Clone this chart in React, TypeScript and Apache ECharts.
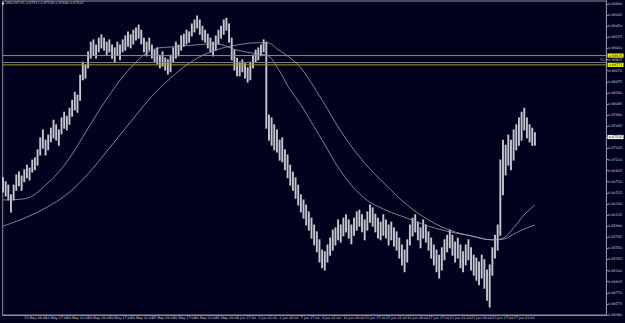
import React, { useEffect, useRef } from "react";
import * as echarts from "echarts";

const symbolTitle = "USDCHF,H1 0.97512 0.97538 0.97490 0.97505";
const slotCount = 908;
const barStep = 4;
const xTickLabels = [
  "12 May 2016", "13 May 09:00", "16 May 17:00", "18 May 01:00", "19 May 09:00",
  "20 May 17:00", "24 May 01:00", "25 May 09:00", "26 May 17:00", "30 May 01:00",
  "31 May 09:00", "1 Jun 17:00", "3 Jun 01:00", "6 Jun 09:00", "7 Jun 17:00",
  "9 Jun 01:00", "10 Jun 09:00", "13 Jun 17:00", "15 Jun 01:00", "16 Jun 09:00",
  "17 Jun 17:00", "21 Jun 01:00", "22 Jun 09:00", "23 Jun 17:00", "27 Jun 01:00",
];
const yMin = 0.9438;
const yInterval = 0.00195;
const yMax = 0.99893;

const barHigh = [
  0.9679, 0.9672, 0.9666, 0.9649, 0.9666, 0.9684, 0.9689, 0.9682, 0.9693, 0.9701,
  0.9696, 0.971, 0.9714, 0.9728, 0.9749, 0.9763, 0.9745, 0.9754, 0.9766, 0.978,
  0.9772, 0.9763, 0.9784, 0.9794, 0.9787, 0.9801, 0.9815, 0.9829, 0.9824, 0.9859,
  0.9882, 0.9877, 0.99, 0.9917, 0.9921, 0.9912, 0.9924, 0.993, 0.9924, 0.9917,
  0.9921, 0.9912, 0.9907, 0.9917, 0.9912, 0.9921, 0.9928, 0.9935, 0.993, 0.9938,
  0.9942, 0.9947, 0.9938, 0.9924, 0.9917, 0.9924, 0.9912, 0.9903, 0.9907, 0.9894,
  0.99, 0.9889, 0.9886, 0.9894, 0.9907, 0.9917, 0.9912, 0.9928, 0.9931, 0.9938,
  0.9935, 0.9949, 0.9956, 0.9963, 0.9956, 0.9945, 0.9938, 0.9931, 0.9924, 0.9917,
  0.9928, 0.9938, 0.9945, 0.9956, 0.9959, 0.9949, 0.9924, 0.9903, 0.9889, 0.9882,
  0.9886, 0.9879, 0.9872, 0.9882, 0.9894, 0.9903, 0.9907, 0.9912, 0.9921, 0.9917,
  0.9789, 0.9784, 0.9772, 0.9763, 0.9745, 0.9749, 0.9728, 0.9719, 0.9701, 0.9689,
  0.9679, 0.9666, 0.9649, 0.964, 0.9631, 0.9619, 0.9608, 0.9596, 0.9584, 0.957,
  0.9552, 0.9549, 0.9561, 0.9573, 0.9587, 0.9591, 0.9605, 0.9596, 0.9608, 0.9614,
  0.9605, 0.9596, 0.9608, 0.9619, 0.9622, 0.9614, 0.9605, 0.9619, 0.9631, 0.9626,
  0.9615, 0.9608, 0.9601, 0.9614, 0.9605, 0.9596, 0.9601, 0.9591, 0.9584, 0.9573,
  0.9561, 0.9552, 0.957, 0.9596, 0.9608, 0.9614, 0.9601, 0.9591, 0.9605, 0.9596,
  0.9584, 0.9573, 0.9561, 0.9552, 0.9543, 0.9556, 0.957, 0.9578, 0.9587, 0.9578,
  0.9566, 0.9573, 0.9561, 0.9549, 0.9561, 0.957, 0.9556, 0.9543, 0.9538, 0.9531,
  0.9543, 0.9535, 0.9517, 0.9526, 0.9556, 0.9578, 0.9596, 0.971, 0.9745, 0.9736,
  0.9754, 0.9745, 0.9763, 0.9772, 0.9784, 0.9794, 0.9801, 0.9784, 0.9772, 0.9766,
  0.9758,
];

const barLow = [
  0.9654, 0.9647, 0.964, 0.9619, 0.964, 0.9657, 0.9665, 0.9657, 0.9672, 0.9679,
  0.9675, 0.9689, 0.9693, 0.9701, 0.9719, 0.9731, 0.9719, 0.9728, 0.9742, 0.9749,
  0.9745, 0.9736, 0.9756, 0.9766, 0.9763, 0.9773, 0.9787, 0.9798, 0.9794, 0.9815,
  0.9851, 0.9854, 0.9872, 0.9889, 0.9894, 0.9889, 0.99, 0.9907, 0.9903, 0.9894,
  0.99, 0.9889, 0.9882, 0.9894, 0.9886, 0.99, 0.9903, 0.991, 0.9907, 0.9914,
  0.9921, 0.9924, 0.9914, 0.99, 0.9893, 0.9903, 0.9889, 0.9882, 0.9879, 0.9872,
  0.9875, 0.9868, 0.9861, 0.9865, 0.9882, 0.9889, 0.9893, 0.9903, 0.991, 0.9914,
  0.9917, 0.9928, 0.9935, 0.9942, 0.9931, 0.9921, 0.9917, 0.9907, 0.99, 0.9893,
  0.9903, 0.9914, 0.9924, 0.9931, 0.9938, 0.9917, 0.9886, 0.9868, 0.9858, 0.9858,
  0.9865, 0.9854, 0.9847, 0.9851, 0.9872, 0.9882, 0.9886, 0.9893, 0.99, 0.9766,
  0.9745, 0.9736, 0.9728, 0.9724, 0.971, 0.9707, 0.9693, 0.9679, 0.9666, 0.9657,
  0.9643, 0.9631, 0.9619, 0.9608, 0.9596, 0.9587, 0.9573, 0.9561, 0.9549, 0.9531,
  0.9521, 0.9517, 0.9531, 0.9543, 0.9552, 0.9561, 0.957, 0.9566, 0.9577, 0.9584,
  0.9573, 0.9563, 0.9578, 0.9587, 0.9594, 0.9584, 0.957, 0.9587, 0.9601, 0.9594,
  0.9584, 0.9573, 0.957, 0.9578, 0.9573, 0.9561, 0.957, 0.9559, 0.9552, 0.9538,
  0.9526, 0.9514, 0.9531, 0.9561, 0.9577, 0.9584, 0.957, 0.9556, 0.9573, 0.9566,
  0.9552, 0.9538, 0.9526, 0.9514, 0.9503, 0.9517, 0.9535, 0.9549, 0.9556, 0.9543,
  0.9531, 0.9538, 0.9521, 0.9514, 0.9526, 0.9535, 0.9517, 0.9508, 0.9499, 0.9491,
  0.9503, 0.9485, 0.9464, 0.9452, 0.9508, 0.9538, 0.9552, 0.9578, 0.9649, 0.9684,
  0.9701, 0.9693, 0.971, 0.9728, 0.9736, 0.9745, 0.9763, 0.9749, 0.9742, 0.9736,
  0.9736,
];

const maSlots = [0, 32, 64, 96, 128, 160, 192, 224, 256, 288, 320, 352, 384, 397, 415, 430, 448, 480, 512, 544, 576, 608, 640, 672, 704, 736, 752, 768, 784, 800];
const fastMA = [0.964, 0.9642, 0.9666, 0.9707, 0.9766, 0.9824, 0.9872, 0.9903, 0.9909, 0.9912, 0.9914, 0.9903, 0.9896, 0.9894, 0.9868, 0.9837, 0.9807, 0.9745, 0.9684, 0.9643, 0.9622, 0.9608, 0.9594, 0.9584, 0.9577, 0.957, 0.9573, 0.9591, 0.9614, 0.9631];
const slowMA = [0.9594, 0.9608, 0.9626, 0.965, 0.9686, 0.9731, 0.9777, 0.9822, 0.9858, 0.9886, 0.9903, 0.9912, 0.9916, 0.9916, 0.9903, 0.9891, 0.9872, 0.9815, 0.9754, 0.9705, 0.9666, 0.9631, 0.9605, 0.9587, 0.9577, 0.957, 0.9571, 0.958, 0.9589, 0.9596];

const yellowLevels = [0.98935, 0.98772];
const midLevel = 0.98813;
const midLevelText = "50.0";
const lastPrice = 0.97505;

const FONT = "Tahoma, 'DejaVu Sans', sans-serif";
const TXT = "#d4d4dc";
const AXIS = "#8c8c9c";

export default function App() {
  const ref = useRef<HTMLDivElement>(null);
  useEffect(() => {
    const chart = echarts.init(ref.current!, null, { renderer: "svg" });
    const categories = Array.from({ length: slotCount }, (_, i) => String(i));
    const bars = barHigh.map((h, i) => [i * barStep, barLow[i], h]);
    const tickShow = (idx: number) => idx % 32 === 0 && idx / 32 < xTickLabels.length;
    const lastSlot = slotCount - 1;
    const levelSeries = (value: number, color: string, width: number, endLabel: any) => ({
      type: "line",
      data: [[0, value], [lastSlot, value]],
      showSymbol: false,
      silent: true,
      clip: false,
      z: 6,
      lineStyle: { color, width, opacity: width > 0 ? 1 : 0 },
      endLabel,
    });
    const boxLabel = (value: number, bg: string) => ({
      show: true,
      formatter: value.toFixed(5),
      distance: 1.5,
      backgroundColor: bg,
      color: "#000",
      fontSize: 3.3,
      fontFamily: FONT,
      padding: [0.6, 1.2],
    });
    chart.setOption({
      animation: false,
      backgroundColor: "#03021e",
      grid: { left: 1, top: 1, width: 610, height: 314, show: true, borderColor: AXIS, borderWidth: 1, backgroundColor: "transparent" },
      xAxis: {
        type: "category",
        data: categories,
        boundaryGap: true,
        axisLine: { lineStyle: { color: AXIS, width: 1 } },
        axisTick: { interval: tickShow, length: 2, lineStyle: { color: AXIS } },
        axisLabel: {
          interval: tickShow,
          formatter: (_v: string, idx: number) => xTickLabels[idx / 32] ?? "",
          fontSize: 3.3,
          color: TXT,
          align: "left",
          margin: 1.8,
          fontFamily: FONT,
        },
        splitLine: { show: false },
      },
      yAxis: {
        type: "value",
        position: "right",
        min: yMin,
        max: yMax,
        interval: yInterval,
        axisLine: { show: true, lineStyle: { color: AXIS } },
        axisTick: { show: true, length: 2, lineStyle: { color: AXIS } },
        axisLabel: {
          fontSize: 3.3,
          color: TXT,
          margin: 2,
          fontFamily: FONT,
          showMaxLabel: false,
          formatter: (v: number) => v.toFixed(5),
        },
        splitLine: { show: false },
      },
      graphic: [
        { type: "rect", shape: { x: 2, y: 2.5, width: 2, height: 2 }, style: { fill: "#e8e8e8" } },
        { type: "text", x: 5.5, y: 1.8, style: { text: symbolTitle, fontSize: 3.3, fill: TXT, fontFamily: FONT } },
      ],
      series: [
        {
          type: "custom",
          data: bars,
          encode: { x: 0, y: [1, 2] },
          silent: true,
          clip: true,
          z: 3,
          renderItem: (_p: any, api: any) => {
            const lo = api.coord([api.value(0), api.value(1)]);
            const hi = api.coord([api.value(0), api.value(2)]);
            return {
              type: "line",
              shape: { x1: lo[0], y1: lo[1] + 0.5, x2: hi[0], y2: hi[1] - 0.5 },
              style: { stroke: "#c6c6ce", lineWidth: 1.9 },
            };
          },
        },
        {
          type: "line",
          data: maSlots.map((s, i) => [s, fastMA[i]]),
          smooth: 0.4,
          showSymbol: false,
          silent: true,
          z: 4,
          lineStyle: { color: "#a4a4b0", width: 0.8 },
        },
        {
          type: "line",
          data: maSlots.map((s, i) => [s, slowMA[i]]),
          smooth: 0.4,
          showSymbol: false,
          silent: true,
          z: 4,
          lineStyle: { color: "#a4a4b0", width: 0.8 },
        },
        levelSeries(yellowLevels[0], "#9c9c1e", 1, boxLabel(yellowLevels[0], "#f2f200")),
        levelSeries(yellowLevels[1], "#9c9c1e", 1, boxLabel(yellowLevels[1], "#f2f200")),
        levelSeries(midLevel, "#7c7c8c", 1, {
          show: true,
          formatter: midLevelText,
          offset: [-14, -2.4],
          color: "#b0b0b8",
          fontSize: 3.3,
          fontFamily: FONT,
        }),
        levelSeries(lastPrice, "#000000", 0, boxLabel(lastPrice, "#f4f4f4")),
      ],
    });
    return () => chart.dispose();
  }, []);
  return <div ref={ref} style={{ position: "fixed", left: 0, top: 0, width: 625, height: 323 }} />;
}
